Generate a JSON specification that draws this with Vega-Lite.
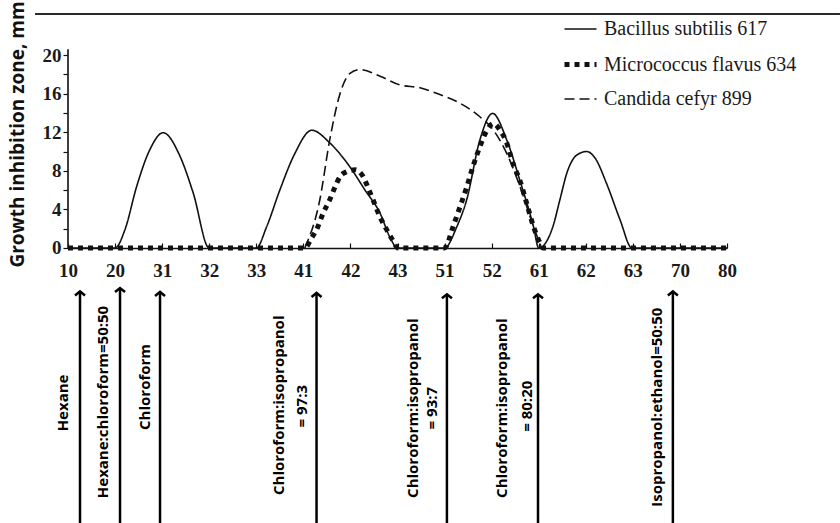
{
  "$schema": "https://vega.github.io/schema/vega-lite/v6.json",
  "autosize": {"type": "none"},
  "width": 659,
  "height": 509,
  "padding": {"left": 68, "top": 14, "right": 113, "bottom": 0},
  "background": "white",
  "config": {"view": {"stroke": null}},
  "datasets": {
    "curves": [
      {"s": "Bacillus subtilis 617", "p": 0, "v": 0},
      {"s": "Bacillus subtilis 617", "p": 1, "v": 0},
      {"s": "Bacillus subtilis 617", "p": 1.21, "v": 1.9},
      {"s": "Bacillus subtilis 617", "p": 1.46, "v": 6.4},
      {"s": "Bacillus subtilis 617", "p": 1.74, "v": 10.2},
      {"s": "Bacillus subtilis 617", "p": 2.02, "v": 11.95},
      {"s": "Bacillus subtilis 617", "p": 2.38, "v": 9.5},
      {"s": "Bacillus subtilis 617", "p": 2.66, "v": 5.7},
      {"s": "Bacillus subtilis 617", "p": 3.0, "v": 0},
      {"s": "Bacillus subtilis 617", "p": 4.0, "v": 0},
      {"s": "Bacillus subtilis 617", "p": 4.22, "v": 2.2},
      {"s": "Bacillus subtilis 617", "p": 4.5, "v": 6.0},
      {"s": "Bacillus subtilis 617", "p": 4.8, "v": 9.6},
      {"s": "Bacillus subtilis 617", "p": 5.18, "v": 12.2},
      {"s": "Bacillus subtilis 617", "p": 5.56, "v": 10.9},
      {"s": "Bacillus subtilis 617", "p": 5.99, "v": 8.4},
      {"s": "Bacillus subtilis 617", "p": 6.31, "v": 6.0},
      {"s": "Bacillus subtilis 617", "p": 6.63, "v": 3.6},
      {"s": "Bacillus subtilis 617", "p": 6.85, "v": 1.0},
      {"s": "Bacillus subtilis 617", "p": 7.0, "v": 0},
      {"s": "Bacillus subtilis 617", "p": 8.0, "v": 0},
      {"s": "Bacillus subtilis 617", "p": 8.26, "v": 2.2},
      {"s": "Bacillus subtilis 617", "p": 8.47, "v": 5.0},
      {"s": "Bacillus subtilis 617", "p": 8.75, "v": 11.2},
      {"s": "Bacillus subtilis 617", "p": 9.02, "v": 13.95},
      {"s": "Bacillus subtilis 617", "p": 9.32, "v": 11.2},
      {"s": "Bacillus subtilis 617", "p": 9.6, "v": 7.0},
      {"s": "Bacillus subtilis 617", "p": 9.89, "v": 2.2},
      {"s": "Bacillus subtilis 617", "p": 10.0, "v": 0},
      {"s": "Bacillus subtilis 617", "p": 10.3, "v": 2.2},
      {"s": "Bacillus subtilis 617", "p": 10.45, "v": 5.0},
      {"s": "Bacillus subtilis 617", "p": 10.6, "v": 7.8},
      {"s": "Bacillus subtilis 617", "p": 10.8, "v": 9.6},
      {"s": "Bacillus subtilis 617", "p": 11.02, "v": 10.0},
      {"s": "Bacillus subtilis 617", "p": 11.2, "v": 9.3},
      {"s": "Bacillus subtilis 617", "p": 11.44, "v": 6.7},
      {"s": "Bacillus subtilis 617", "p": 11.73, "v": 2.9},
      {"s": "Bacillus subtilis 617", "p": 11.98, "v": 0},
      {"s": "Bacillus subtilis 617", "p": 14, "v": 0},
      {"s": "Micrococcus flavus 634", "p": 0, "v": 0},
      {"s": "Micrococcus flavus 634", "p": 5.03, "v": 0},
      {"s": "Micrococcus flavus 634", "p": 5.17, "v": 1.0},
      {"s": "Micrococcus flavus 634", "p": 5.28, "v": 1.9},
      {"s": "Micrococcus flavus 634", "p": 5.42, "v": 3.6},
      {"s": "Micrococcus flavus 634", "p": 5.56, "v": 5.0},
      {"s": "Micrococcus flavus 634", "p": 5.67, "v": 6.3},
      {"s": "Micrococcus flavus 634", "p": 5.78, "v": 7.4},
      {"s": "Micrococcus flavus 634", "p": 5.92, "v": 7.9},
      {"s": "Micrococcus flavus 634", "p": 6.1, "v": 8.1},
      {"s": "Micrococcus flavus 634", "p": 6.27, "v": 7.4},
      {"s": "Micrococcus flavus 634", "p": 6.37, "v": 6.3},
      {"s": "Micrococcus flavus 634", "p": 6.48, "v": 5.0},
      {"s": "Micrococcus flavus 634", "p": 6.63, "v": 3.2},
      {"s": "Micrococcus flavus 634", "p": 6.77, "v": 1.9},
      {"s": "Micrococcus flavus 634", "p": 6.9, "v": 0.8},
      {"s": "Micrococcus flavus 634", "p": 7.01, "v": 0},
      {"s": "Micrococcus flavus 634", "p": 8.0, "v": 0},
      {"s": "Micrococcus flavus 634", "p": 8.18, "v": 2.2},
      {"s": "Micrococcus flavus 634", "p": 8.33, "v": 4.3},
      {"s": "Micrococcus flavus 634", "p": 8.47, "v": 6.3},
      {"s": "Micrococcus flavus 634", "p": 8.6, "v": 8.4},
      {"s": "Micrococcus flavus 634", "p": 8.75, "v": 10.5},
      {"s": "Micrococcus flavus 634", "p": 8.9, "v": 12.2},
      {"s": "Micrococcus flavus 634", "p": 9.04, "v": 12.9},
      {"s": "Micrococcus flavus 634", "p": 9.18, "v": 12.2},
      {"s": "Micrococcus flavus 634", "p": 9.32, "v": 10.9},
      {"s": "Micrococcus flavus 634", "p": 9.45, "v": 8.8},
      {"s": "Micrococcus flavus 634", "p": 9.6, "v": 7.0},
      {"s": "Micrococcus flavus 634", "p": 9.74, "v": 4.7},
      {"s": "Micrococcus flavus 634", "p": 9.89, "v": 2.2},
      {"s": "Micrococcus flavus 634", "p": 10.03, "v": 0.5},
      {"s": "Micrococcus flavus 634", "p": 10.09, "v": 0},
      {"s": "Micrococcus flavus 634", "p": 14, "v": 0},
      {"s": "Candida cefyr 899", "p": 5.03, "v": 0},
      {"s": "Candida cefyr 899", "p": 5.35, "v": 5.0},
      {"s": "Candida cefyr 899", "p": 5.56, "v": 11.2},
      {"s": "Candida cefyr 899", "p": 5.78, "v": 16.0},
      {"s": "Candida cefyr 899", "p": 5.99, "v": 18.1},
      {"s": "Candida cefyr 899", "p": 6.2, "v": 18.5},
      {"s": "Candida cefyr 899", "p": 6.63, "v": 17.8},
      {"s": "Candida cefyr 899", "p": 7.05, "v": 16.9},
      {"s": "Candida cefyr 899", "p": 7.48, "v": 16.6},
      {"s": "Candida cefyr 899", "p": 7.9, "v": 15.9},
      {"s": "Candida cefyr 899", "p": 8.33, "v": 15.0},
      {"s": "Candida cefyr 899", "p": 8.75, "v": 13.6},
      {"s": "Candida cefyr 899", "p": 9.04, "v": 12.2},
      {"s": "Candida cefyr 899", "p": 9.32, "v": 9.8},
      {"s": "Candida cefyr 899", "p": 9.6, "v": 6.4},
      {"s": "Candida cefyr 899", "p": 9.89, "v": 2.2},
      {"s": "Candida cefyr 899", "p": 10.06, "v": 0}
    ],
    "arrows": [
      {"p": 0.255, "tip": -4.5, "bot": -28.5},
      {"p": 1.105, "tip": -4.15, "bot": -28.5},
      {"p": 1.955, "tip": -4.55, "bot": -28.5},
      {"p": 5.28, "tip": -4.66, "bot": -28.5},
      {"p": 8.05, "tip": -4.8, "bot": -28.5},
      {"p": 9.985, "tip": -4.8, "bot": -28.5},
      {"p": 12.85, "tip": -4.5, "bot": -28.5}
    ],
    "labels": [
      {"p": -0.106, "v": -16.06, "t": "Hexane"},
      {"p": 0.744, "v": -15.96, "t": "Hexane:chloroform=50:50"},
      {"p": 1.636, "v": -14.4, "t": "Chloroform"},
      {"p": 4.48, "v": -16.3, "t": "Chloroform:isopropanol"},
      {"p": 4.97, "v": -16.4, "t": "= 97:3"},
      {"p": 7.33, "v": -16.6, "t": "Chloroform:isopropanol"},
      {"p": 7.73, "v": -16.6, "t": "= 93:7"},
      {"p": 9.22, "v": -16.6, "t": "Chloroform:isopropanol"},
      {"p": 9.75, "v": -16.4, "t": "= 80:20"},
      {"p": 12.51, "v": -16.5, "t": "Isopropanol:ethanol=50:50"}
    ],
    "frame": [
      {"p": -0.7, "p2": 16.4, "v": 24.25, "v2": 24.25, "kind": "top"},
      {"p": 0, "p2": 0, "v": 0, "v2": 20.6, "kind": "yaxis"}
    ]
  },
  "encoding": {
    "x": {"field": "p", "type": "quantitative"},
    "y": {"field": "v", "type": "quantitative"}
  },
  "layer": [
    {
      "data": {"name": "frame"},
      "mark": {"type": "rule", "color": "#2a2a2a", "strokeWidth": 1.8},
      "encoding": {
        "x": {"field": "p", "type": "quantitative",
          "scale": {"domain": [0, 14], "nice": false, "zero": false},
          "axis": {
            "values": [0,1,2,3,4,5,6,7,8,9,10,11,12,13,14],
            "labelExpr": "['10','20','31','32','33','41','42','43','51','52','61','62','63','70','80'][datum.value]",
            "title": null,
            "offset": -275,
            "grid": false,
            "domainColor": "#111111",
            "domainWidth": 1.5,
            "tickColor": "#111111",
            "tickSize": -5,
            "tickWidth": 1.2,
            "labelFont": "Liberation Serif",
            "labelFontWeight": "bold",
            "labelFontSize": 19,
            "labelColor": "#1a1a1a",
            "labelPadding": 18,
            "labelFlush": false
          }
        },
        "x2": {"field": "p2"},
        "y": {"field": "v", "type": "quantitative",
          "scale": {"domain": [-28.5, 24.25], "nice": false, "zero": false},
          "axis": {
            "values": [0,2,4,6,8,10,12,14,16,18,20],
            "labelExpr": "datum.value % 4 === 0 ? datum.label : ''",
            "domain": false,
            "grid": false,
            "tickColor": "#111111",
            "tickSize": 5,
            "tickWidth": 1.2,
            "labelFont": "Liberation Serif",
            "labelFontWeight": "bold",
            "labelFontSize": 19,
            "labelColor": "#1a1a1a",
            "labelPadding": 2,
            "title": "Growth inhibition zone, mm",
            "titleFont": "Open Sans",
            "titleFontWeight": "bold",
            "titleFontSize": 19,
            "titleColor": "#111111",
            "titleX": -51,
            "titleY": 120,
            "titleAngle": 270,
            "titleAlign": "center",
            "titleBaseline": "middle"
          }
        },
        "y2": {"field": "v2"}
      }
    },
    {
      "data": {"name": "curves"},
      "mark": {"type": "line", "interpolate": "monotone", "color": "#111111", "strokeCap": "butt"},
      "encoding": {
        "detail": {"field": "s"},
        "strokeDash": {"field": "s", "type": "nominal",
          "scale": {"domain": ["Bacillus subtilis 617", "Micrococcus flavus 634", "Candida cefyr 899"],
                    "range": [[1, 0], [5, 5], [10, 5]]},
          "legend": {
            "orient": "none",
            "legendX": 494,
            "legendY": -2,
            "title": null,
            "symbolType": "stroke",
            "symbolSize": 1024,
            "symbolStrokeColor": "#111111",
            "labelFont": "Liberation Serif",
            "labelFontSize": 20,
            "labelColor": "#1a1a1a",
            "labelOffset": 5,
            "labelLimit": 400,
            "rowPadding": 7,
            "padding": 0
          }
        },
        "strokeWidth": {"field": "s", "type": "nominal",
          "scale": {"type": "ordinal", "domain": ["Bacillus subtilis 617", "Micrococcus flavus 634", "Candida cefyr 899"],
                    "range": [1.6, 5, 1.6]},
          "legend": {
            "orient": "none",
            "legendX": 494,
            "legendY": -2,
            "title": null,
            "symbolType": "stroke",
            "symbolSize": 1024,
            "symbolStrokeColor": "#111111",
            "labelFont": "Liberation Serif",
            "labelFontSize": 20,
            "labelColor": "#1a1a1a",
            "labelOffset": 5,
            "labelLimit": 400,
            "rowPadding": 7,
            "padding": 0
          }
        }
      }
    },
    {
      "data": {"name": "arrows"},
      "mark": {"type": "rule", "color": "#000000", "strokeWidth": 2.5},
      "encoding": {
        "x": {"field": "p", "type": "quantitative"},
        "y": {"field": "tip", "type": "quantitative"},
        "y2": {"field": "bot"}
      }
    },
    {
      "data": {"name": "arrows"},
      "mark": {"type": "point", "shape": "M-1,0.8L0,0L1,0.8", "size": 100, "filled": false, "color": "#000000", "strokeWidth": 2.5, "opacity": 1},
      "encoding": {
        "x": {"field": "p", "type": "quantitative"},
        "y": {"field": "tip", "type": "quantitative"}
      }
    },
    {
      "data": {"name": "labels"},
      "mark": {"type": "text", "angle": 270, "align": "center", "baseline": "middle", "font": "Open Sans", "fontWeight": "bold", "fontSize": 15, "color": "#000000"},
      "encoding": {
        "x": {"field": "p", "type": "quantitative"},
        "y": {"field": "v", "type": "quantitative"},
        "text": {"field": "t"}
      }
    }
  ]
}
